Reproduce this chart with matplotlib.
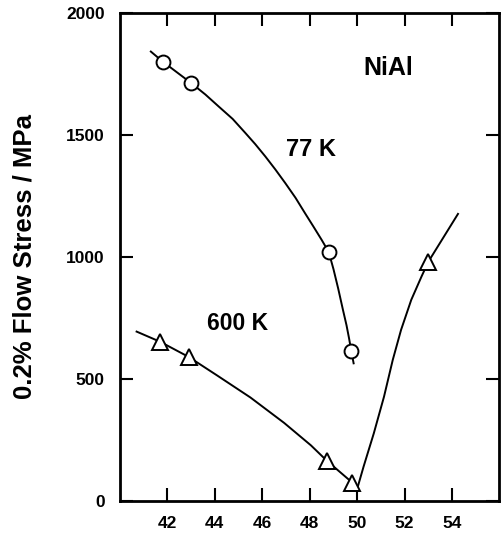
import matplotlib
matplotlib.use("Agg")
import matplotlib.pyplot as plt

plt.rcParams['font.family'] = ['Liberation Sans', 'DejaVu Sans']
plt.rcParams['font.weight'] = 'bold'

# ---- measured points ----
ni_77 = [41.8, 43.0, 48.8, 49.75]
stress_77 = [1800, 1712, 1020, 615]
ni_600 = [41.7, 42.9, 48.72, 49.8, 53.0]
stress_600 = [652, 590, 165, 75, 980]

# ---- guide curves ----
curve77_x = [41.3, 41.8, 43.0, 43.6, 44.16, 44.75, 45.29, 45.7, 46.13, 46.55, 46.97,
             47.4, 47.8, 48.15, 48.5, 48.8, 49.0, 49.2, 49.4, 49.55, 49.66, 49.75, 49.85]
curve77_y = [1841, 1800, 1712, 1665, 1616, 1565, 1507, 1462, 1411, 1358, 1302,
             1242, 1179, 1125, 1070, 1020, 950, 870, 783, 720, 665, 615, 564]
curve600_x = [40.7, 41.7, 42.9, 44.1, 45.5, 46.92, 48.05, 48.72, 49.8, 50.0,
              50.27, 50.7, 51.13, 51.5, 51.85, 52.28, 52.71, 53.0, 54.25]
curve600_y = [694, 652, 590, 514, 424, 320, 228, 165, 75, 50,
              141, 277, 427, 578, 701, 824, 919, 980, 1176]

fig = plt.figure(figsize=(5.01, 5.37), dpi=100)
ax = fig.add_axes([0.2395, 0.067, 0.7575, 0.9093])

ax.plot(curve77_x, curve77_y, color='black', lw=1.4, zorder=2)
ax.plot(curve600_x, curve600_y, color='black', lw=1.4, zorder=2)
ax.plot(ni_77, stress_77, 'o', ms=10, mfc='white', mec='black', mew=1.4, ls='none', zorder=3)
ax.plot(ni_600, stress_600, '^', ms=11, mfc='white', mec='black', mew=1.4, ls='none', zorder=3)

ax.text(51.3, 1774, 'NiAl', fontsize=18, fontweight='bold', ha='center', va='center')
ax.text(48.07, 1438, '77 K', fontsize=17, fontweight='bold', ha='center', va='center')
ax.text(44.94, 729, '600 K', fontsize=16.5, fontweight='bold', ha='center', va='center')

ax.set_xlim(40, 56)
ax.set_ylim(0, 2000)
ax.set_xticks([42, 44, 46, 48, 50, 52, 54])
ax.set_yticks([0, 500, 1000, 1500, 2000])
ax.tick_params(direction='in', length=9.5, width=1.5, top=True, right=True, labelsize=12.5, pad=11)
for lab in ax.get_xticklabels() + ax.get_yticklabels():
    lab.set_fontweight('bold')
for sp in ax.spines.values():
    sp.set_linewidth(2)
ax.set_ylabel('0.2% Flow Stress / MPa', fontsize=18.5, fontweight='bold')
ax.yaxis.set_label_coords(-0.221, 0.5)

fig.savefig('out.png', dpi=100)
